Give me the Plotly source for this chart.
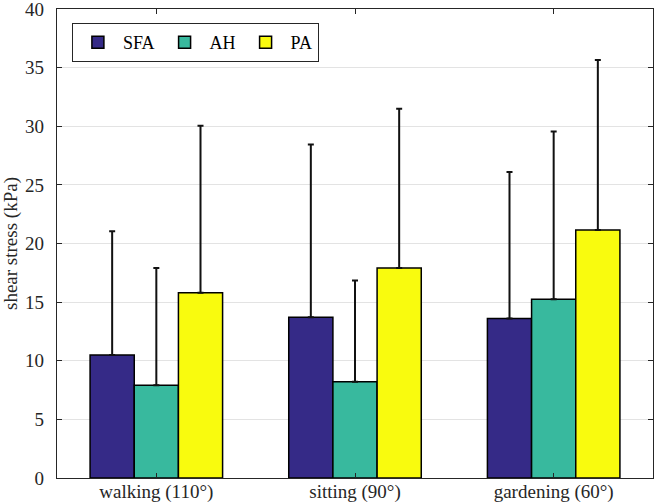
import plotly.graph_objects as go

categories = ["walking (110°)", "sitting (90°)", "gardening (60°)"]
series_names = ["SFA", "AH", "PA"]
sfa_mean = [10.5, 13.7, 13.6]
ah_mean = [7.9, 8.2, 15.25]
pa_mean = [15.8, 17.9, 21.15]
sfa_err = [10.55, 14.75, 12.5]
ah_err = [10.0, 8.65, 14.3]
pa_err = [14.25, 13.6, 14.5]
colors = ["#352a87", "#38b99e", "#f9fb0e"]
y_ticks = [0, 5, 10, 15, 20, 25, 30, 35, 40]

fig = go.Figure()
for name, vals, errs, col in zip(series_names, [sfa_mean, ah_mean, pa_mean],
                                 [sfa_err, ah_err, pa_err], colors):
    fig.add_trace(go.Bar(
        name=name, x=categories, y=vals,
        marker=dict(color=col, line=dict(color="black", width=1.5)),
        error_y=dict(type="data", symmetric=False, array=errs,
                     arrayminus=[0] * len(errs), color="#111111",
                     thickness=2, width=3),
    ))

font_family = "Liberation Serif, Times New Roman, serif"
fig.update_layout(
    width=655, height=504,
    margin=dict(l=57, r=2, t=9, b=26, autoexpand=False),
    barmode="group", bargap=0.333, bargroupgap=0,
    plot_bgcolor="white", paper_bgcolor="white",
    font=dict(family=font_family, size=19, color="#262626"),
    showlegend=True,
    legend=dict(orientation="h", x=0.025, y=0.970, xanchor="left", yanchor="top",
                bgcolor="white", bordercolor="#262626", borderwidth=1,
                font=dict(family=font_family, size=18, color="#000"),
                itemwidth=40, tracegroupgap=0),
)
fig.update_xaxes(
    range=[-0.5, 2.5], showline=True, linecolor="#262626", linewidth=1.2,
    mirror="ticks", ticks="inside", ticklen=5, tickcolor="#262626",
    showgrid=False, tickfont=dict(size=19), ticklabeloverflow="allow",
    automargin=False, ticklabelstandoff=-4,
)
fig.update_yaxes(
    range=[0, 40], tickvals=y_ticks, showline=True, linecolor="#262626",
    linewidth=1.2, mirror="ticks", ticks="inside", ticklen=5,
    tickcolor="#262626", showgrid=True, gridcolor="#e3e3e3", gridwidth=1,
    zeroline=False, tickfont=dict(size=19), ticklabelstandoff=8,
    ticklabeloverflow="allow", automargin=False,
    title=dict(text="shear stress (kPa)", font=dict(size=19), standoff=2),
)
fig.write_html("out.html", config={"displayModeBar": False},
               post_script="document.body.style.margin='0';document.body.style.padding='0';")
